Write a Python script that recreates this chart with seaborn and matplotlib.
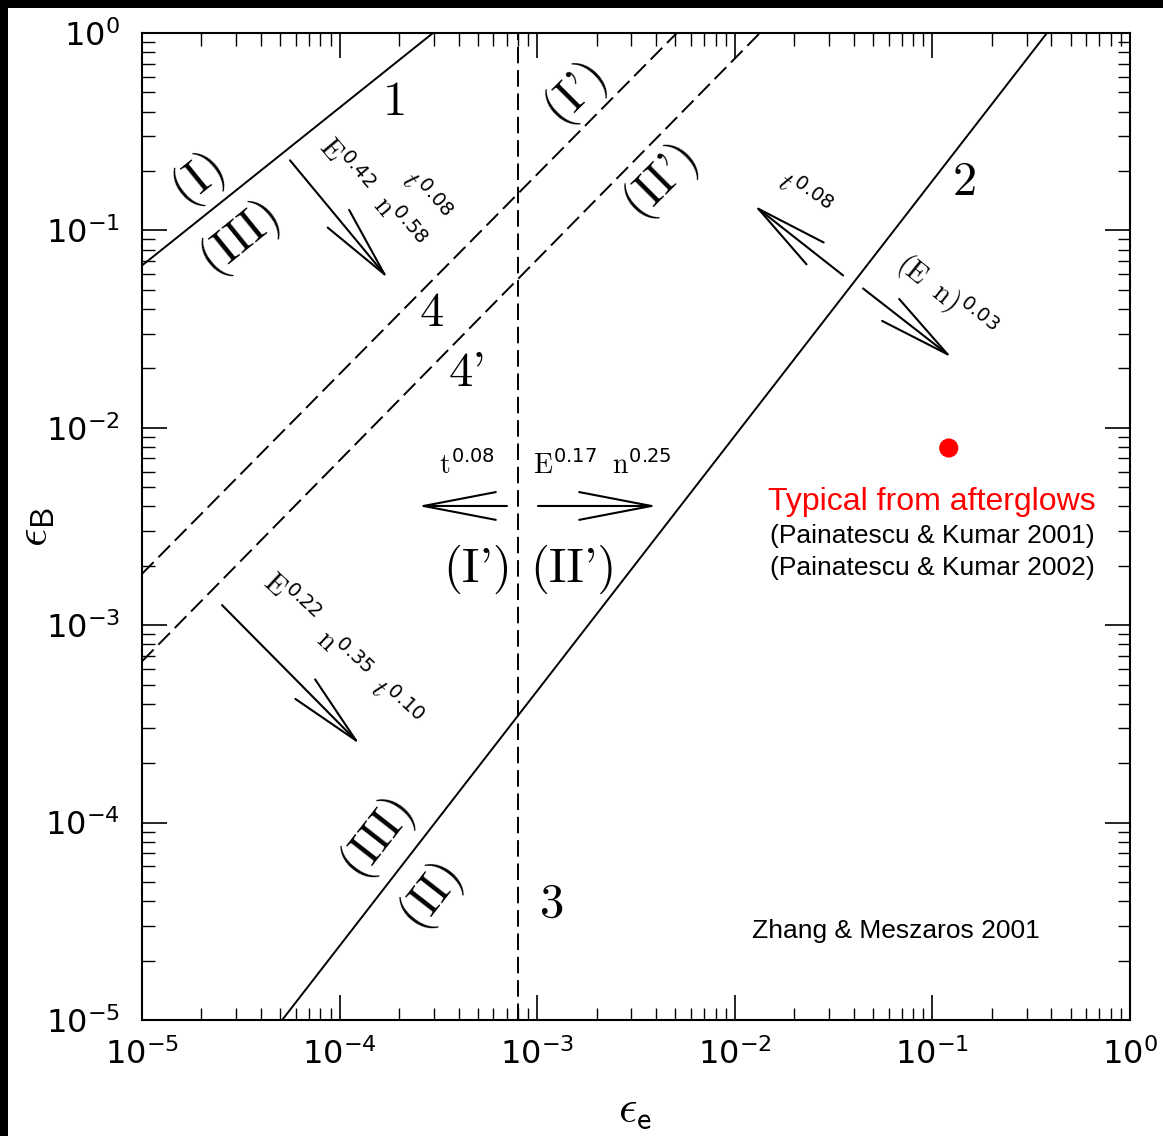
import numpy as np
import matplotlib
matplotlib.use('Agg')
import matplotlib.pyplot as plt
import matplotlib.ticker as mticker
from matplotlib.patches import Rectangle
import seaborn as sns

# ── Data: boundary lines in the (eps_e, eps_B) plane ─────────────────────
line1_e = [1e-5, 2.97e-4]
line1_B = [0.0664, 1.0]
line2_e = [5.12e-5, 0.380]
line2_B = [1e-5, 1.0]
line3_e = [8.0e-4, 8.0e-4]
line3_B = [1e-5, 1.0]
line4_e = [1e-5, 5.09e-3]
line4_B = [1.82e-3, 1.0]
line4p_e = [1e-5, 1.34e-2]
line4p_B = [6.56e-4, 1.0]

# typical afterglow values
typical_e = [0.121]
typical_B = [0.0079]

# arrows (log10 eps_e, log10 eps_B): start -> tip
arrow_start = [(-4.251, -0.645), (-1.452, -1.228), (-1.351, -1.294),
               (-3.153, -2.396), (-2.996, -2.396), (-4.595, -2.898)]
arrow_tip = [(-3.755, -1.244), (-1.903, -0.873), (-0.901, -1.645),
             (-3.603, -2.396), (-2.394, -2.396), (-3.897, -3.604)]

# region / line labels: text, log x, log y, rotation
region_labels = [
    ("1", -3.720, -0.355, 0), ("2", -0.835, -0.761, 0),
    ("3", -2.925, -4.416, 0), ("4", -3.532, -1.421, 0),
    ("4'", -3.355, -1.726, 0),
    ("(I)", -4.717, -0.726, 39), ("(III)", -4.504, -1.025, 39),
    ("(I')", -2.809, -0.289, 45), ("(II')", -2.379, -0.736, 45),
    ("(I')", -3.300, -2.716, 0), ("(II')", -2.819, -2.716, 0),
    ("(III)", -3.811, -4.061, 52), ("(II)", -3.542, -4.350, 52),
]

# scaling labels next to the arrows: text, log x, log y, rotation, size
scaling_labels = [
    (r'$\mathrm{E}^{\mathdefault{0.42}}$', -3.973, -0.675, -50, 20),
    (r'$t^{\mathdefault{0.08}}$', -3.568, -0.838, -50, 20),
    (r'$\mathrm{n}^{\mathdefault{0.58}}$', -3.704, -0.964, -50, 20),
    (r'$t^{\mathdefault{0.08}}$', -1.655, -0.827, -36, 20),
    (r'$(\mathrm{E\ \ n})^{\mathdefault{0.03}}$', -0.931, -1.335, -39, 20),
    (r'$\mathrm{E}^{\mathdefault{0.22}}$', -4.251, -2.868, -43, 20),
    (r'$\mathrm{n}^{\mathdefault{0.35}}$', -3.988, -3.157, -43, 20),
    (r'$t^{\mathdefault{0.10}}$', -3.720, -3.401, -43, 20),
    (r'$\mathrm{t}^{\mathdefault{0.08}}$', -3.355, -2.188, 0, 20),
    (r'$\mathrm{E}^{\mathdefault{0.17}}$', -2.859, -2.188, 0, 20),
    (r'$\mathrm{n}^{\mathdefault{0.25}}$', -2.470, -2.188, 0, 20),
]

# ── Setup ────────────────────────────────────────────────────────────────
sns.set_theme(style='ticks')
plt.rcParams['font.family'] = ['DejaVu Sans']
plt.rcParams['mathtext.fontset'] = 'cm'
plt.rcParams['text.color'] = 'black'
plt.rcParams['axes.labelcolor'] = 'black'

fig = plt.figure(figsize=(11.63, 11.36), dpi=100)
ax = fig.add_axes([142 / 1163, 1 - 1020 / 1136, 988 / 1163, 987 / 1136])
ax.set_xscale('log')
ax.set_yscale('log')

dash = (0, (8.5, 3.5))
for e, b, ls in [(line1_e, line1_B, '-'), (line2_e, line2_B, '-'),
                 (line3_e, line3_B, dash), (line4_e, line4_B, dash),
                 (line4p_e, line4p_B, dash)]:
    sns.lineplot(x=e, y=b, ax=ax, color='black', lw=1.4, linestyle=ls,
                 sort=False, estimator=None)

sns.scatterplot(x=typical_e, y=typical_B, ax=ax, color='red', s=190,
                edgecolor='none', zorder=4)

for (xs, ys), (xt, yt) in zip(arrow_start, arrow_tip):
    ax.annotate('', xy=(10 ** xt, 10 ** yt), xytext=(10 ** xs, 10 ** ys),
                arrowprops=dict(arrowstyle='->,head_length=5.2,head_width=1.0',
                                lw=1.5, color='black', shrinkA=0, shrinkB=0,
                                mutation_scale=10))

for txt, xl, yl, rot in region_labels:
    ax.text(10 ** xl, 10 ** yl, txt, fontfamily='cmr10', fontsize=35,
            color='black', rotation=rot, rotation_mode='anchor',
            ha='center', va='center')

for txt, xl, yl, rot, fs in scaling_labels:
    ax.text(10 ** xl, 10 ** yl, txt, fontsize=fs, color='black', rotation=rot,
            rotation_mode='anchor', ha='center', va='center')

ax.text(10 ** -1.002, 10 ** -2.376, 'Typical from afterglows', color='red',
        fontsize=23, fontfamily='Liberation Sans', ha='center', va='center')
ax.text(10 ** -1.002, 10 ** -2.548, '(Painatescu & Kumar 2001)', color='black',
        fontsize=19, fontfamily='Liberation Sans', ha='center', va='center')
ax.text(10 ** -1.002, 10 ** -2.711, '(Painatescu & Kumar 2002)', color='black',
        fontsize=19, fontfamily='Liberation Sans', ha='center', va='center')
ax.text(10 ** -1.184, 10 ** -4.548, 'Zhang & Meszaros 2001', color='black',
        fontsize=19, fontfamily='Liberation Sans', ha='center', va='center')

# ── Axes ─────────────────────────────────────────────────────────────────
ax.set_xlim(1e-5, 1)
ax.set_ylim(1e-5, 1)
major = 10.0 ** np.arange(-5, 1)
for axis in (ax.xaxis, ax.yaxis):
    axis.set_major_locator(mticker.FixedLocator(major))
    axis.set_minor_locator(mticker.LogLocator(base=10, subs=np.arange(2, 10), numticks=50))
    axis.set_major_formatter(mticker.LogFormatterSciNotation())
    axis.set_minor_formatter(mticker.NullFormatter())

ax.tick_params(which='both', direction='in', top=True, right=True,
               color='black', labelcolor='black')
ax.tick_params(which='major', length=18, width=1.2, labelsize=23)
ax.tick_params(which='minor', length=9, width=1.0)
ax.tick_params(axis='x', pad=13)
ax.tick_params(axis='y', pad=16)
for s in ax.spines.values():
    s.set_linewidth(1.5)
    s.set_color('black')

ax.set_xlabel(r'$\epsilon_{\mathsf{e}}$', fontsize=33, color='black')
ax.set_ylabel(r'$\epsilon_{\mathsf{B}}$', fontsize=33, color='black')
ax.xaxis.set_label_coords(0.499, -0.068)
ax.yaxis.set_label_coords(-0.086, 0.5)

# black frame strips along the top and left edge of the picture
fig.add_artist(Rectangle((0, 1 - 8 / 1136), 1, 8 / 1136, transform=fig.transFigure,
                         facecolor='black', edgecolor='none'))
fig.add_artist(Rectangle((0, 0), 8 / 1163, 1, transform=fig.transFigure,
                         facecolor='black', edgecolor='none'))

fig.savefig('out.png', dpi=100)
plt.close()
